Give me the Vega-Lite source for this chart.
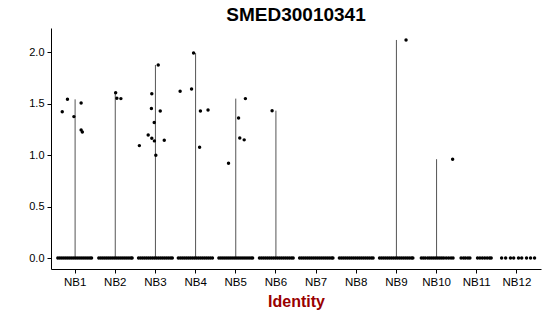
{
  "$schema": "https://vega.github.io/schema/vega-lite/v6.json",
  "autosize": "none",
  "width": 490,
  "height": 241,
  "padding": {"left": 51, "top": 28, "right": 9, "bottom": 47},
  "background": "white",
  "config": {
    "view": {"stroke": null},
    "font": "Liberation Sans",
    "axis": {"grid": false, "domainColor": "#000", "tickColor": "#000", "labelColor": "#000", "labelFont": "Liberation Sans", "labelFontSize": 11, "domainWidth": 1, "tickWidth": 1}
  },
  "title": {"text": "SMED30010341", "fontSize": 19, "fontWeight": "bold", "font": "Liberation Sans", "anchor": "middle", "color": "#000", "baseline": "bottom", "offset": 4, "dy": 20},
  "datasets": {
    "cells": [
      {"c":"NB1","v":1.423,"j":-0.32},{"c":"NB1","v":1.543,"j":-0.19},{"c":"NB1","v":1.375,"j":-0.03},{"c":"NB1","v":1.508,"j":0.15},{"c":"NB1","v":1.246,"j":0.15},{"c":"NB1","v":1.226,"j":0.18},
      {"c":"NB2","v":1.608,"j":0.01},{"c":"NB2","v":1.553,"j":0.04},{"c":"NB2","v":1.55,"j":0.14},
      {"c":"NB3","v":1.877,"j":0.07},{"c":"NB3","v":1.598,"j":-0.09},{"c":"NB3","v":1.453,"j":-0.1},{"c":"NB3","v":1.43,"j":0.12},{"c":"NB3","v":1.317,"j":-0.03},{"c":"NB3","v":1.093,"j":-0.4},{"c":"NB3","v":1.197,"j":-0.18},{"c":"NB3","v":1.165,"j":-0.09},{"c":"NB3","v":1.139,"j":-0.025},{"c":"NB3","v":1.146,"j":0.22},{"c":"NB3","v":1.0,"j":0.01},
      {"c":"NB4","v":1.993,"j":-0.05},{"c":"NB4","v":1.621,"j":-0.385},{"c":"NB4","v":1.644,"j":-0.1},{"c":"NB4","v":1.43,"j":0.12},{"c":"NB4","v":1.44,"j":0.31},{"c":"NB4","v":1.078,"j":0.1},
      {"c":"NB5","v":1.55,"j":0.24},{"c":"NB5","v":1.362,"j":0.07},{"c":"NB5","v":1.168,"j":0.1},{"c":"NB5","v":1.149,"j":0.21},{"c":"NB5","v":0.922,"j":-0.18},
      {"c":"NB6","v":1.433,"j":-0.095},
      {"c":"NB9","v":2.12,"j":0.24},
      {"c":"NB10","v":0.961,"j":0.4},

      {"c":"NB1","v":0,"j":-0.43},{"c":"NB1","v":0,"j":-0.38},{"c":"NB1","v":0,"j":-0.33},{"c":"NB1","v":0,"j":-0.28},{"c":"NB1","v":0,"j":-0.23},{"c":"NB1","v":0,"j":-0.18},{"c":"NB1","v":0,"j":-0.13},{"c":"NB1","v":0,"j":-0.08},{"c":"NB1","v":0,"j":-0.03},{"c":"NB1","v":0,"j":0.02},{"c":"NB1","v":0,"j":0.07},{"c":"NB1","v":0,"j":0.12},{"c":"NB1","v":0,"j":0.17},{"c":"NB1","v":0,"j":0.22},{"c":"NB1","v":0,"j":0.27},{"c":"NB1","v":0,"j":0.32},{"c":"NB1","v":0,"j":0.37},{"c":"NB1","v":0,"j":0.41},
      {"c":"NB2","v":0,"j":-0.41},{"c":"NB2","v":0,"j":-0.36},{"c":"NB2","v":0,"j":-0.31},{"c":"NB2","v":0,"j":-0.26},{"c":"NB2","v":0,"j":-0.21},{"c":"NB2","v":0,"j":-0.16},{"c":"NB2","v":0,"j":-0.11},{"c":"NB2","v":0,"j":-0.06},{"c":"NB2","v":0,"j":-0.01},{"c":"NB2","v":0,"j":0.04},{"c":"NB2","v":0,"j":0.09},{"c":"NB2","v":0,"j":0.14},{"c":"NB2","v":0,"j":0.19},{"c":"NB2","v":0,"j":0.24},{"c":"NB2","v":0,"j":0.29},{"c":"NB2","v":0,"j":0.34},{"c":"NB2","v":0,"j":0.39},{"c":"NB2","v":0,"j":0.42},
      {"c":"NB3","v":0,"j":-0.42},{"c":"NB3","v":0,"j":-0.37},{"c":"NB3","v":0,"j":-0.32},{"c":"NB3","v":0,"j":-0.27},{"c":"NB3","v":0,"j":-0.22},{"c":"NB3","v":0,"j":-0.17},{"c":"NB3","v":0,"j":-0.12},{"c":"NB3","v":0,"j":-0.07},{"c":"NB3","v":0,"j":-0.02},{"c":"NB3","v":0,"j":0.03},{"c":"NB3","v":0,"j":0.08},{"c":"NB3","v":0,"j":0.13},{"c":"NB3","v":0,"j":0.18},{"c":"NB3","v":0,"j":0.23},{"c":"NB3","v":0,"j":0.28},{"c":"NB3","v":0,"j":0.33},{"c":"NB3","v":0,"j":0.38},{"c":"NB3","v":0,"j":0.42},
      {"c":"NB4","v":0,"j":-0.43},{"c":"NB4","v":0,"j":-0.38},{"c":"NB4","v":0,"j":-0.33},{"c":"NB4","v":0,"j":-0.28},{"c":"NB4","v":0,"j":-0.23},{"c":"NB4","v":0,"j":-0.18},{"c":"NB4","v":0,"j":-0.13},{"c":"NB4","v":0,"j":-0.08},{"c":"NB4","v":0,"j":-0.03},{"c":"NB4","v":0,"j":0.02},{"c":"NB4","v":0,"j":0.07},{"c":"NB4","v":0,"j":0.12},{"c":"NB4","v":0,"j":0.17},{"c":"NB4","v":0,"j":0.22},{"c":"NB4","v":0,"j":0.27},{"c":"NB4","v":0,"j":0.32},{"c":"NB4","v":0,"j":0.37},{"c":"NB4","v":0,"j":0.42},
      {"c":"NB5","v":0,"j":-0.42},{"c":"NB5","v":0,"j":-0.37},{"c":"NB5","v":0,"j":-0.32},{"c":"NB5","v":0,"j":-0.27},{"c":"NB5","v":0,"j":-0.22},{"c":"NB5","v":0,"j":-0.17},{"c":"NB5","v":0,"j":-0.12},{"c":"NB5","v":0,"j":-0.07},{"c":"NB5","v":0,"j":-0.02},{"c":"NB5","v":0,"j":0.03},{"c":"NB5","v":0,"j":0.08},{"c":"NB5","v":0,"j":0.13},{"c":"NB5","v":0,"j":0.18},{"c":"NB5","v":0,"j":0.23},{"c":"NB5","v":0,"j":0.28},{"c":"NB5","v":0,"j":0.33},{"c":"NB5","v":0,"j":0.38},{"c":"NB5","v":0,"j":0.42},
      {"c":"NB6","v":0,"j":-0.41},{"c":"NB6","v":0,"j":-0.36},{"c":"NB6","v":0,"j":-0.31},{"c":"NB6","v":0,"j":-0.26},{"c":"NB6","v":0,"j":-0.21},{"c":"NB6","v":0,"j":-0.16},{"c":"NB6","v":0,"j":-0.11},{"c":"NB6","v":0,"j":-0.06},{"c":"NB6","v":0,"j":-0.01},{"c":"NB6","v":0,"j":0.04},{"c":"NB6","v":0,"j":0.09},{"c":"NB6","v":0,"j":0.14},{"c":"NB6","v":0,"j":0.19},{"c":"NB6","v":0,"j":0.24},{"c":"NB6","v":0,"j":0.29},{"c":"NB6","v":0,"j":0.34},{"c":"NB6","v":0,"j":0.39},{"c":"NB6","v":0,"j":0.43},
      {"c":"NB7","v":0,"j":-0.41},{"c":"NB7","v":0,"j":-0.36},{"c":"NB7","v":0,"j":-0.31},{"c":"NB7","v":0,"j":-0.26},{"c":"NB7","v":0,"j":-0.21},{"c":"NB7","v":0,"j":-0.16},{"c":"NB7","v":0,"j":-0.11},{"c":"NB7","v":0,"j":-0.06},{"c":"NB7","v":0,"j":-0.01},{"c":"NB7","v":0,"j":0.04},{"c":"NB7","v":0,"j":0.09},{"c":"NB7","v":0,"j":0.14},{"c":"NB7","v":0,"j":0.19},{"c":"NB7","v":0,"j":0.24},{"c":"NB7","v":0,"j":0.29},{"c":"NB7","v":0,"j":0.34},{"c":"NB7","v":0,"j":0.39},{"c":"NB7","v":0,"j":0.42},
      {"c":"NB8","v":0,"j":-0.42},{"c":"NB8","v":0,"j":-0.37},{"c":"NB8","v":0,"j":-0.32},{"c":"NB8","v":0,"j":-0.27},{"c":"NB8","v":0,"j":-0.22},{"c":"NB8","v":0,"j":-0.17},{"c":"NB8","v":0,"j":-0.12},{"c":"NB8","v":0,"j":-0.07},{"c":"NB8","v":0,"j":-0.02},{"c":"NB8","v":0,"j":0.03},{"c":"NB8","v":0,"j":0.08},{"c":"NB8","v":0,"j":0.13},{"c":"NB8","v":0,"j":0.18},{"c":"NB8","v":0,"j":0.23},{"c":"NB8","v":0,"j":0.28},{"c":"NB8","v":0,"j":0.33},{"c":"NB8","v":0,"j":0.38},{"c":"NB8","v":0,"j":0.42},
      {"c":"NB9","v":0,"j":-0.42},{"c":"NB9","v":0,"j":-0.37},{"c":"NB9","v":0,"j":-0.32},{"c":"NB9","v":0,"j":-0.27},{"c":"NB9","v":0,"j":-0.22},{"c":"NB9","v":0,"j":-0.17},{"c":"NB9","v":0,"j":-0.12},{"c":"NB9","v":0,"j":-0.07},{"c":"NB9","v":0,"j":-0.02},{"c":"NB9","v":0,"j":0.03},{"c":"NB9","v":0,"j":0.08},{"c":"NB9","v":0,"j":0.13},{"c":"NB9","v":0,"j":0.18},{"c":"NB9","v":0,"j":0.23},{"c":"NB9","v":0,"j":0.28},{"c":"NB9","v":0,"j":0.33},{"c":"NB9","v":0,"j":0.38},{"c":"NB9","v":0,"j":0.41},
      {"c":"NB10","v":0,"j":-0.38},{"c":"NB10","v":0,"j":-0.33},{"c":"NB10","v":0,"j":-0.28},{"c":"NB10","v":0,"j":-0.22},{"c":"NB10","v":0,"j":-0.17},{"c":"NB10","v":0,"j":-0.12},{"c":"NB10","v":0,"j":-0.07},{"c":"NB10","v":0,"j":-0.02},{"c":"NB10","v":0,"j":0.03},{"c":"NB10","v":0,"j":0.08},{"c":"NB10","v":0,"j":0.13},{"c":"NB10","v":0,"j":0.18},{"c":"NB10","v":0,"j":0.24},{"c":"NB10","v":0,"j":0.3},{"c":"NB10","v":0,"j":0.36},{"c":"NB10","v":0,"j":0.41},
      {"c":"NB11","v":0,"j":-0.39},{"c":"NB11","v":0,"j":-0.33},{"c":"NB11","v":0,"j":-0.28},{"c":"NB11","v":0,"j":-0.22},{"c":"NB11","v":0,"j":-0.17},{"c":"NB11","v":0,"j":0.02},{"c":"NB11","v":0,"j":0.08},{"c":"NB11","v":0,"j":0.14},{"c":"NB11","v":0,"j":0.2},{"c":"NB11","v":0,"j":0.26},{"c":"NB11","v":0,"j":0.32},{"c":"NB11","v":0,"j":0.36},
      {"c":"NB12","v":0,"j":-0.38},{"c":"NB12","v":0,"j":-0.28},{"c":"NB12","v":0,"j":-0.16},{"c":"NB12","v":0,"j":-0.08},{"c":"NB12","v":0,"j":0.04},{"c":"NB12","v":0,"j":0.12},{"c":"NB12","v":0,"j":0.24},{"c":"NB12","v":0,"j":0.34},{"c":"NB12","v":0,"j":0.44}
    ]
  },
  "data": {"name": "cells"},
  "encoding": {
    "x": {
      "field": "c", "type": "nominal",
      "sort": ["NB1","NB2","NB3","NB4","NB5","NB6","NB7","NB8","NB9","NB10","NB11","NB12"],
      "scale": {"type": "band", "paddingInner": 0, "paddingOuter": 0.1},
      "axis": {"title": "Identity", "titleColor": "#990000", "titleFontSize": 16, "titleFontWeight": "bold", "titleFont": "Liberation Sans", "labelAngle": 0, "labelFontSize": 11.5, "tickSize": 4, "labelPadding": 3, "titlePadding": 6}
    },
    "y": {
      "field": "v", "type": "quantitative",
      "scale": {"domain": [-0.1065, 2.2365], "nice": false, "zero": false},
      "axis": {"title": null, "values": [0, 0.5, 1, 1.5, 2], "format": ".1f", "tickSize": 4, "labelPadding": 3}
    }
  },
  "layer": [
    {
      "transform": [
        {"aggregate": [{"op": "max", "field": "v", "as": "v"}], "groupby": ["c"]},
        {"filter": "datum.v > 0"}
      ],
      "mark": {"type": "rule", "color": "#555", "strokeWidth": 1},
      "encoding": {"y2": {"datum": 0}}
    },
    {
      "mark": {"type": "circle", "color": "#000", "opacity": 1, "size": 12},
      "encoding": {
        "xOffset": {"field": "j", "type": "quantitative", "scale": {"domain": [-0.5, 0.5]}}
      }
    }
  ]
}
